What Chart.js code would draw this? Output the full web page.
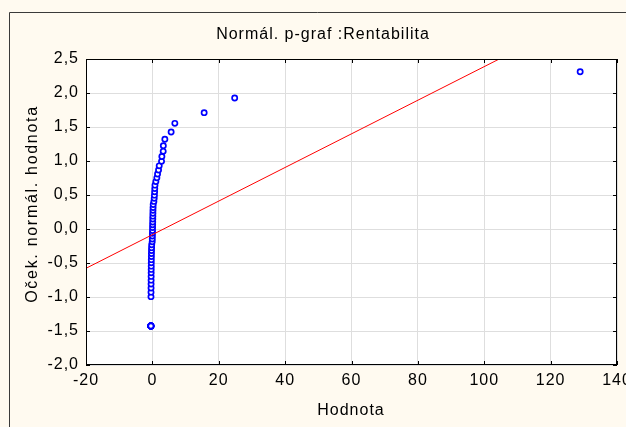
<!DOCTYPE html>
<html>
<head>
<meta charset="utf-8">
<script src="https://cdn.jsdelivr.net/npm/chart.js@4.4.1/dist/chart.umd.min.js"></script>
<style>
  html, body { margin: 0; padding: 0; background: #FFFAF0; }
  #wrap { width: 626px; height: 427px; position: relative; }
</style>
</head>
<body>
<div id="wrap"><canvas id="c" width="626" height="427"></canvas></div>
<script>
// Texts
const chartTitle = 'Normál. p-graf :Rentabilita';
const xTitle = 'Hodnota';
const yTitle = 'Oček. normál. hodnota';

// Axis ticks
const xTicks = [-20, 0, 20, 40, 60, 80, 100, 120, 140];
const yTicks = [-2.0, -1.5, -1.0, -0.5, 0.0, 0.5, 1.0, 1.5, 2.0, 2.5];

// Observed values (sorted) of Rentabilita
const hodnota = [
  -0.45, -0.45, -0.45, -0.45, -0.45, -0.45, -0.45, -0.45, -0.45,
  -0.42, -0.41, -0.40, -0.39, -0.38, -0.37, -0.36, -0.35, -0.34, -0.33,
  -0.32, -0.30, -0.28, -0.26, -0.24, -0.20,
  -0.05, -0.02, 0.00, 0.02, 0.04, 0.06, 0.08, 0.10, 0.12, 0.14,
  0.16, 0.18, 0.21, 0.25,
  0.45, 0.55, 0.62, 0.68, 0.72,
  0.78, 1.05, 1.35, 1.56, 1.86, 2.06, 2.76, 2.86, 3.26, 3.30,
  3.76, 5.65, 6.77, 15.6, 24.8, 128.9
];

// Expected normal values for each observation
const ocekavana = [
  -1.427, -1.427, -1.427, -1.427, -1.427, -1.427, -1.427, -1.427, -1.427,
  -0.995, -0.929, -0.867, -0.808, -0.752, -0.697, -0.645, -0.594, -0.546, -0.498,
  -0.451, -0.406, -0.361, -0.317, -0.274, -0.231,
  -0.189, -0.147, -0.104, -0.062, -0.021, 0.021, 0.062, 0.104, 0.147, 0.189,
  0.231, 0.274, 0.317, 0.361,
  0.406, 0.451, 0.498, 0.546, 0.594,
  0.645, 0.697, 0.752, 0.808, 0.867, 0.929, 0.995, 1.066, 1.142, 1.226,
  1.320, 1.427, 1.554, 1.711, 1.927, 2.312
];

// Reference line end points
const fitX = [-20, 140];
const fitY = [-0.578, 3.377];

const FONT = "'Liberation Sans', Arial, sans-serif";
const FONT_SIZE = 16;

const points = hodnota.map((v, i) => ({ x: v, y: ocekavana[i] }));
const fitLine = fitX.map((v, i) => ({ x: v, y: fitY[i] }));

const framePlugin = {
  id: 'frame',
  beforeDraw(chart) {
    const { ctx, chartArea: a } = chart;
    // wider letter spacing for all chart texts
    ctx.letterSpacing = '1px';
    ctx.save();
    ctx.fillStyle = '#FFFAF0';
    ctx.fillRect(0, 0, chart.width, chart.height);
    // outer panel border
    ctx.strokeStyle = '#3a3a3a';
    ctx.lineWidth = 1;
    ctx.beginPath();
    ctx.moveTo(9.5, chart.height);
    ctx.lineTo(9.5, 12.5);
    ctx.lineTo(chart.width, 12.5);
    ctx.stroke();
    // plot background
    ctx.fillStyle = '#FFFFFF';
    ctx.fillRect(a.left, a.top, a.right - a.left, a.bottom - a.top);
    ctx.restore();
  },
  afterDraw(chart) {
    const { ctx, chartArea: a, scales } = chart;
    ctx.save();
    // plot box
    ctx.strokeStyle = '#000';
    ctx.lineWidth = 1;
    ctx.strokeRect(Math.round(a.left) + 0.5, Math.round(a.top) + 0.5,
      Math.round(a.right - a.left) - 1, Math.round(a.bottom - a.top) - 1);
    // inward tick marks
    ctx.beginPath();
    xTicks.forEach(v => {
      const px = Math.round(scales.x.getPixelForValue(v)) + 0.5;
      ctx.moveTo(px, a.bottom); ctx.lineTo(px, a.bottom - 4);
      ctx.moveTo(px, a.top); ctx.lineTo(px, a.top + 4);
    });
    yTicks.forEach(v => {
      const py = Math.round(scales.y.getPixelForValue(v)) + 0.5;
      ctx.moveTo(a.left, py); ctx.lineTo(a.left + 4, py);
      ctx.moveTo(a.right, py); ctx.lineTo(a.right - 4, py);
    });
    ctx.stroke();
    // titles
    ctx.fillStyle = '#000';
    ctx.font = FONT_SIZE + 'px ' + FONT;
    ctx.textAlign = 'center';
    ctx.textBaseline = 'middle';
    ctx.fillText(chartTitle, 323, 35);
    ctx.fillText(xTitle, 351, 411);
    ctx.letterSpacing = '1.7px';
    ctx.translate(33, 204);
    ctx.rotate(-Math.PI / 2);
    ctx.fillText(yTitle, 0, 0);
    ctx.restore();
  }
};

new Chart(document.getElementById('c'), {
  type: 'scatter',
  data: {
    datasets: [
      {
        data: fitLine,
        showLine: true,
        borderColor: '#FF0000',
        borderWidth: 1,
        pointRadius: 0,
        pointHoverRadius: 0,
        order: 0
      },
      {
        data: points,
        pointStyle: 'circle',
        pointRadius: 2.6,
        pointHoverRadius: 2.6,
        borderWidth: 1.7,
        borderColor: '#0000FF',
        backgroundColor: '#FFFFFF',
        order: 1
      }
    ]
  },
  options: {
    responsive: false,
    animation: false,
    devicePixelRatio: 1,
    events: [],
    layout: { autoPadding: false, padding: { left: 0, right: 9, top: 59, bottom: 0 } },
    plugins: { legend: { display: false }, tooltip: { enabled: false }, title: { display: false } },
    scales: {
      x: {
        type: 'linear',
        min: -20, max: 140,
        afterBuildTicks(scale) { scale.ticks = xTicks.map(v => ({ value: v })); },
        afterFit(scale) {
          scale.height = 62;
          scale.paddingLeft = 0;
          scale.paddingRight = 0;
        },
        grid: { color: '#DEDEDE', lineWidth: 1, drawTicks: false },
        border: { display: false },
        ticks: {
          padding: 6,
          color: '#000',
          font: { family: FONT, size: FONT_SIZE },
          maxRotation: 0,
          autoSkip: false,
          callback: v => String(v)
        }
      },
      y: {
        type: 'linear',
        min: -2, max: 2.5,
        afterBuildTicks(scale) { scale.ticks = yTicks.map(v => ({ value: v })); },
        afterFit(scale) {
          scale.width = 86;
          scale.paddingTop = 0;
          scale.paddingBottom = 0;
        },
        grid: { color: '#DEDEDE', lineWidth: 1, drawTicks: false },
        border: { display: false },
        ticks: {
          padding: 7,
          color: '#000',
          font: { family: FONT, size: FONT_SIZE },
          autoSkip: false,
          callback: v => v.toFixed(1).replace('.', ',')
        }
      }
    }
  },
  plugins: [framePlugin]
});
</script>
</body>
</html>
